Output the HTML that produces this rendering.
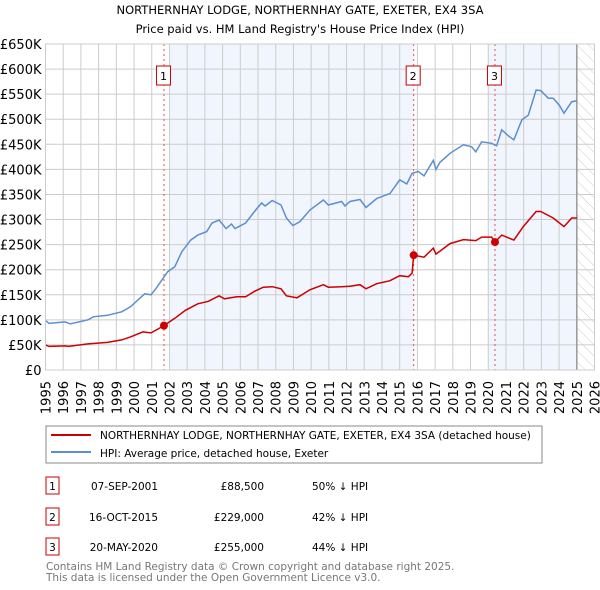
<!DOCTYPE html>
<html><head><meta charset="utf-8"><style>
body{margin:0;background:#fff;width:600px;height:590px;overflow:hidden;font-family:"DejaVu Sans","Liberation Sans",sans-serif}
svg{display:block}
</style></head><body>
<svg id="chart" width="600" height="590" viewBox="0 0 600 590" font-family="DejaVu Sans, Liberation Sans, sans-serif">
<defs><pattern id="hatch" width="8" height="8" patternUnits="userSpaceOnUse" patternTransform="rotate(-45)"><line x1="0" y1="0" x2="0" y2="8" stroke="#ccc" stroke-width="1"/></pattern></defs>
<text x="300" y="14" text-anchor="middle" font-size="11.5">NORTHERNHAY LODGE, NORTHERNHAY GATE, EXETER, EX4 3SA</text>
<text x="300" y="33" text-anchor="middle" font-size="11.5">Price paid vs. HM Land Registry's House Price Index (HPI)</text>
<g id="plot"></g>
<g>
<rect x="46" y="426" width="496" height="37" fill="#fff" stroke="#888"/>
<line x1="51" y1="435" x2="91" y2="435" stroke="#cc0000" stroke-width="2"/>
<text x="100" y="439" font-size="10.5">NORTHERNHAY LODGE, NORTHERNHAY GATE, EXETER, EX4 3SA (detached house)</text>
<line x1="51" y1="452" x2="91" y2="452" stroke="#5b8fd1" stroke-width="2"/>
<text x="100" y="457" font-size="10.5">HPI: Average price, detached house, Exeter</text>
</g>
<g font-size="10.5">
<rect x="46" y="477" width="13" height="17" fill="#fff" stroke="#c00"/><text x="52.5" y="490" text-anchor="middle">1</text>
<text x="158" y="490" text-anchor="end">07-SEP-2001</text><text x="264" y="490" text-anchor="end">£88,500</text><text x="312" y="490">50% ↓ HPI</text>
<rect x="46" y="508" width="13" height="17" fill="#fff" stroke="#c00"/><text x="52.5" y="521" text-anchor="middle">2</text>
<text x="158" y="521" text-anchor="end">16-OCT-2015</text><text x="264" y="521" text-anchor="end">£229,000</text><text x="312" y="521">42% ↓ HPI</text>
<rect x="46" y="538" width="13" height="17" fill="#fff" stroke="#c00"/><text x="52.5" y="551" text-anchor="middle">3</text>
<text x="158" y="551" text-anchor="end">20-MAY-2020</text><text x="264" y="551" text-anchor="end">£255,000</text><text x="312" y="551">44% ↓ HPI</text>
</g>
<text x="46" y="570" font-size="10.5" fill="#777">Contains HM Land Registry data © Crown copyright and database right 2025.</text>
<text x="46" y="581" font-size="10.5" fill="#777">This data is licensed under the Open Government Licence v3.0.</text>
</svg>
<script>
const yTicks=[0,50,100,150,200,250,300,350,400,450,500,550,600,650];
const yTickLabels=["£0","£50K","£100K","£150K","£200K","£250K","£300K","£350K","£400K","£450K","£500K","£550K","£600K","£650K"];
const xYears=[1995,1996,1997,1998,1999,2000,2001,2002,2003,2004,2005,2006,2007,2008,2009,2010,2011,2012,2013,2014,2015,2016,2017,2018,2019,2020,2021,2022,2023,2024,2025,2026];
const hpiT=[1995.02,1995.2,1996.1,1996.4,1997.4,1997.7,1998.5,1999.3,1999.8,2000.6,2000.96,2001.25,2001.9,2002.3,2002.7,2003.2,2003.6,2004.1,2004.4,2004.8,2005.2,2005.5,2005.7,2006.3,2006.8,2007.2,2007.4,2007.8,2008.3,2008.6,2008.97,2009.37,2009.93,2010.69,2010.97,2011.72,2011.91,2012.19,2012.76,2013.1,2013.7,2014.45,2015.0,2015.4,2015.7,2016.05,2016.37,2016.9,2017.05,2017.27,2017.84,2018.6,2019.06,2019.3,2019.63,2020.19,2020.47,2020.76,2021.13,2021.45,2021.9,2022.26,2022.7,2022.96,2023.39,2023.67,2024.01,2024.28,2024.71,2025.03];
const hpiV=[98,93,96,92,100,106,109,116,126,152,150,163,196,206,236,259,269,276,293,299,282,291,282,293,316,333,327,338,329,303,288,296,319,339,329,336,327,336,340,324,342,352,379,371,392,396,387,418,400,414,432,449,445,435,455,452,447,479,467,459,499,508,558,557,542,542,528,512,535,537];
const ppT=[1995.0,1995.2,1996.1,1996.3,1997.4,1998.5,1999.3,1999.8,2000.5,2000.96,2001.69,2002.3,2002.9,2003.6,2004.2,2004.8,2005.1,2005.8,2006.3,2006.8,2007.3,2007.8,2008.3,2008.6,2009.2,2009.93,2010.69,2010.97,2011.72,2012.19,2012.76,2013.1,2013.7,2014.45,2015.0,2015.5,2015.7,2015.79,2016.37,2016.9,2017.05,2017.84,2018.6,2019.3,2019.63,2020.19,2020.38,2020.76,2021.45,2021.98,2022.7,2022.96,2023.67,2024.28,2024.71,2025.03];
const ppV=[50,47,48,47,52,55,60,66,76,74,88.5,103,119,132,137,148,142,146,146,157,165,166,162,148,144,160,170,165,166,167,170,162,172,178,188,186,193,229,225,243,231,252,260,258,265,265,255,269,259,286,316,316,303,286,303,303];
const saleT=[2001.69,2015.79,2020.38];
const saleV=[88.5,229,255];
const saleLabels=["1","2","3"];
const NS="http://www.w3.org/2000/svg";
const L=45.5,R=594.5,T=44,B=370;
const x=t=>L+(t-1995)/(2026-1995)*(R-L);
const y=v=>B-v/650*(B-T);
const g=document.getElementById('plot');
function mk(tag,attrs,parent){const e=document.createElementNS(NS,tag);for(const k in attrs)e.setAttribute(k,attrs[k]);(parent||g).appendChild(e);return e;}
let s1=mk('rect',{x:x(2002.0),y:T,width:x(saleT[1])-x(2002.0),height:B-T,fill:'#eef3fc',opacity:0.8});


let s2=mk('rect',{x:x(2020.0),y:T,width:x(2025)-x(2020.0),height:B-T,fill:'#eef3fc',opacity:0.8});


let hz=mk('rect',{x:x(2025),y:T,width:R-x(2025),height:B-T,fill:'url(#hatch)'});


yTicks.forEach((v,i)=>{
 const ln=mk('line',{x1:L,x2:R,y1:y(v),y2:y(v),stroke:'#ccc','stroke-width':1});
 
 
 const tx=mk('text',{x:L-4,y:y(v)+5,'text-anchor':'end','font-size':13});
 
 
 tx.textContent=yTickLabels[i];
});
xYears.forEach(yr=>{
 const ln=mk('line',{x1:x(yr),x2:x(yr),y1:T,y2:B,stroke:'#ccc','stroke-width':1});
 
 
 const tx=mk('text',{x:0,y:0,'text-anchor':'end','font-size':13,transform:`translate(${x(yr)+5},${381}) rotate(-90)`});
 
 
 tx.textContent=yr;
});
let fl=mk('line',{x1:x(2025),x2:x(2025),y1:T,y2:B,stroke:'#999','stroke-width':1.5});


saleT.forEach((t,i)=>{
 const ln=mk('line',{x1:x(t),x2:x(t),y1:T,y2:B,stroke:'#e05050','stroke-width':1,'stroke-dasharray':'2,3'});
 
 
});
const pts=(ts,vs)=>ts.map((t,i)=>x(t).toFixed(1)+','+y(vs[i]).toFixed(1)).join(' ');
let hp=mk('polyline',{points:pts(hpiT,hpiV),fill:'none',stroke:'#5b8fd1','stroke-width':1.5});


let pp=mk('polyline',{points:pts(ppT,ppV),fill:'none',stroke:'#cc0000','stroke-width':1.5});


saleT.forEach((t,i)=>{
 const c=mk('circle',{cx:x(t),cy:y(saleV[i]),r:4,fill:'#cc0000'});
 
 
 const b=mk('rect',{x:x(t)-7.5,y:66,width:14,height:19,fill:'#fff',stroke:'#c00'});
 
 
 const tx=mk('text',{x:x(t)-0.5,y:80,'text-anchor':'middle','font-size':11});
 
 
 tx.textContent=saleLabels[i];
});
let fr=mk('rect',{x:L,y:T,width:R-L,height:B-T,fill:'none',stroke:'#ccc'});


</script>
</body></html>
